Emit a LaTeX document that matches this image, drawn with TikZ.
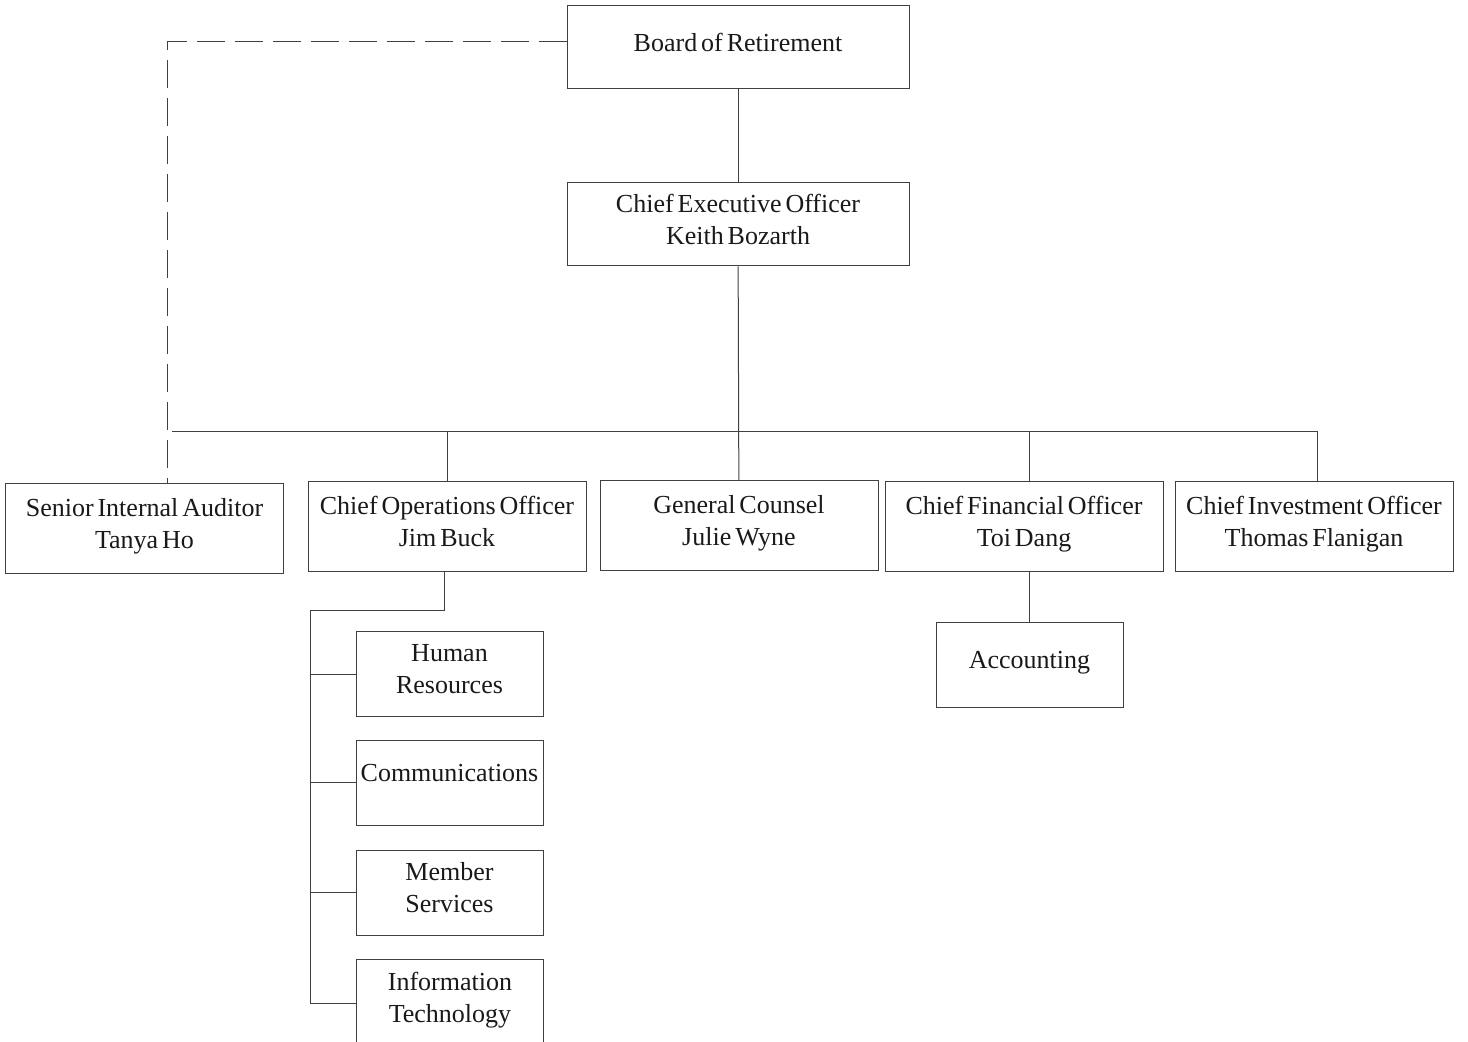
\documentclass[tikz,border=0pt]{standalone}
\usepackage{fontspec}
\setmainfont[WordSpace=0.6]{Liberation Serif}

\tikzset{
	box/.style={draw=black!75, line width=0.5pt, align=center, inner sep=0pt, text depth=5.5pt, text=black!90, font=\fontsize{13}{16}\selectfont},
	wide/.style={box, minimum width=139pt, minimum height=45pt},
	small/.style={box, minimum width=93.5pt, minimum height=42.5pt},
	link/.style={black!75, line width=0.5pt},
	dashlink/.style={link, dash pattern=on 14pt off 5pt}
}

\begin{document}
\begin{tikzpicture}[x=0.5pt,y=-0.5pt]
\useasboundingbox (0,0) rectangle (1468,1042);

\node (board) at (738,47.5) [box,minimum width=171pt,minimum height=41.5pt] {Board of Retirement};
\node (ceo) at (738,224.5) [box,minimum width=171pt,minimum height=41.5pt] {Chief Executive Officer\\Keith Bozarth};

\node (aud) at (144.5,528.5) [wide] {Senior Internal Auditor\\Tanya Ho};
\node (coo) at (447,527) [wide] {Chief Operations Officer\\Jim Buck};
\node (gc) at (739,526) [wide] {General Counsel\\Julie Wyne};
\node (cfo) at (1024,527) [wide] {Chief Financial Officer\\Toi Dang};
\node (cio) at (1314,527) [wide] {Chief Investment Officer\\Thomas Flanigan};

\node (acc) at (1029.5,665.5) [small] {Accounting};

\node (hr) at (449.5,674.5) [small] {Human\\Resources};
\node (com) at (449.5,783) [small,text depth=10pt] {Communications};
\node (mem) at (449.5,892.5) [small] {Member\\Services};
\node (it) at (450,1003) [small,minimum height=43.5pt] {Information\\Technology};

\coordinate (busL) at (172,432);
\coordinate (audlink) at (167,484);
\coordinate (spine) at (310,611);

% reporting lines
\draw [link] (board) -- (ceo);
\draw [link] (ceo) -- (gc);
\draw [link] (busL) -| ([xshift=1.5pt]cio.north);
\draw [link] (coo.north) -- (coo.north |- busL);
\draw [link] (acc.north |- busL) -- (acc.north |- cfo.north);
\draw [link] (cfo.south -| acc.north) -- (acc);
\draw [dashlink] ([yshift=2.75pt]board.west) -| (audlink);

% operations units
\draw [link] ([xshift=-1.5pt]coo.south) |- (spine) -- (spine |- it.west);
\foreach \n in {hr,com,mem,it}
	\draw [link] (spine |- \n.west) -- (\n.west);

\end{tikzpicture}
\end{document}
